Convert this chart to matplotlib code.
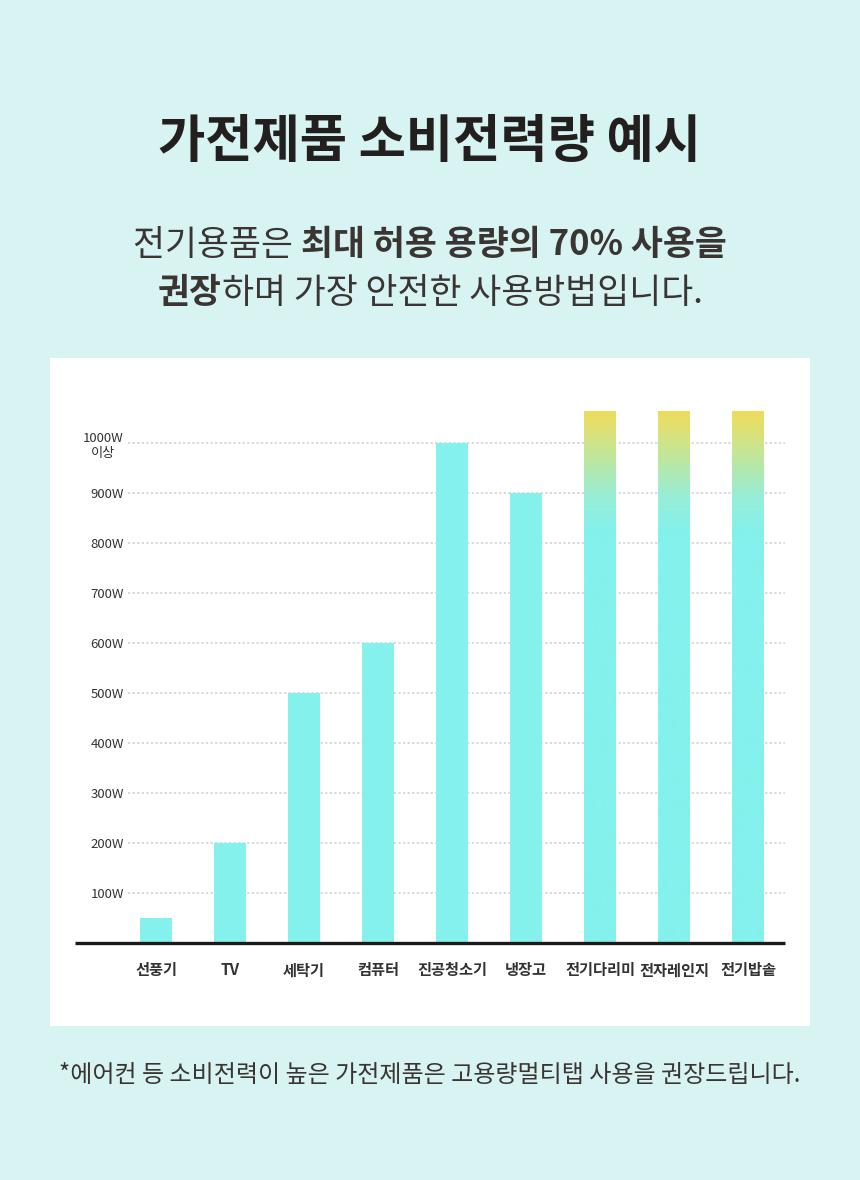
import matplotlib.pyplot as plt
import numpy as np
from matplotlib.colors import LinearSegmentedColormap
from matplotlib.patches import Rectangle

plt.rcParams['font.family'] = ['Noto Sans CJK KR', 'DejaVu Sans']

# data
items = ['선풍기', 'TV', '세탁기', '컴퓨터', '진공청소기', '냉장고', '전기다리미', '전자레인지', '전기밥솥']
watts = [50, 200, 500, 600, 1000, 900, 1065, 1065, 1065]
over_1000 = [False, False, False, False, False, False, True, True, True]
tick_vals = [100, 200, 300, 400, 500, 600, 700, 800, 900, 1000]
tick_labels = ['100W', '200W', '300W', '400W', '500W', '600W', '700W', '800W', '900W', '1000W\n이상']

title = '가전제품 소비전력량 예시'
sub1 = [('전기용품은 ', 'normal'), ('최대 허용 용량의 70% 사용을', 'bold')]
sub2 = [('권장', 'bold'), ('하며 가장 안전한 사용방법입니다.', 'normal')]
note = '*에어컨 등 소비전력이 높은 가전제품은 고용량멀티탭 사용을 권장드립니다.'

BG = '#d7f4f2'
CYAN = '#84f1ec'
YELLOW = '#f0dc5a'
TXT = '#3a3433'

W, H = 860, 1180
fig = plt.figure(figsize=(W / 100, H / 100), dpi=100, facecolor=BG)

# white panel
fig.patches.append(Rectangle((50 / W, 1 - 1026 / H), 760 / W, 668 / H,
                             transform=fig.transFigure, facecolor='white',
                             edgecolor='none', zorder=-5))

fig.text(0.5, 1 - 142 / H, title, ha='center', va='center', fontsize=37,
         fontweight='black', color='#231f1e')


def rich_line(y_px, parts, size, color):
    texts = [fig.text(0, 1 - y_px / H, s, fontsize=size, fontweight=w,
                      va='center', ha='left', color=color) for s, w in parts]
    r = fig.canvas.get_renderer()
    widths = [t.get_window_extent(r).width for t in texts]
    x = (W - sum(widths)) / 2
    for t, w in zip(texts, widths):
        t.set_x(x / W)
        x += w


rich_line(245, sub1, 25, TXT)
rich_line(293, sub2, 25, TXT)

fig.text(0.5, 1 - 1075 / H, note, ha='center', va='center', fontsize=17.3, color=TXT)

# chart axes
left, right, bottom, top = 128, 785, 943, 393
ax = fig.add_axes([left / W, 1 - bottom / H, (right - left) / W, (bottom - top) / H])
ax.set_zorder(5)
ax.set_facecolor('none')
x = np.arange(len(items))
ax.set_xlim(-0.378, 8.5)
ax.set_ylim(0, 1100)
for s in ax.spines.values():
    s.set_visible(False)

ax.hlines(tick_vals, -0.378, 8.5, colors='#cfcfcf', linestyles=(0, (1.5, 1.5)),
          linewidth=1.1, zorder=1)

bars = ax.bar(x, watts, width=0.43, color=CYAN, linewidth=0, zorder=2)

grad = LinearSegmentedColormap.from_list(
    'g', [(0, CYAN), (0.3, '#98eed6'), (0.55, '#b6e8a8'), (0.8, '#d8e27c'), (1, YELLOW)], N=512)
ys = np.linspace(0, 1100, 1100).reshape(-1, 1)
vals = np.clip((ys - 820) / (1065 - 820), 0, 1)
for b, hot in zip(bars, over_1000):
    if hot:
        b.set_facecolor('none')
        im = ax.imshow(vals, cmap=grad, origin='lower', aspect='auto',
                       interpolation='bilinear', extent=(-0.378, 8.5, 0, 1100),
                       zorder=2, vmin=0, vmax=1)
        im.set_clip_path(b)

ax.plot([-0.081, 1], [0, 0], transform=ax.get_yaxis_transform(), color='#1a1a1a',
        linewidth=2.4, clip_on=False, zorder=3, solid_capstyle='butt')

ax.set_yticks(tick_vals)
ax.set_yticklabels(tick_labels, fontsize=9.5, color='#333333')
for lab in ax.get_yticklabels():
    lab.set_multialignment('center')
ax.tick_params(axis='y', length=0, pad=3)
ax.set_xticks(x)
ax.set_xticklabels(items, fontsize=11, fontweight='bold', color='#333333')
ax.tick_params(axis='x', length=0, pad=14)

fig.savefig('out.png', dpi=100, facecolor=BG)
